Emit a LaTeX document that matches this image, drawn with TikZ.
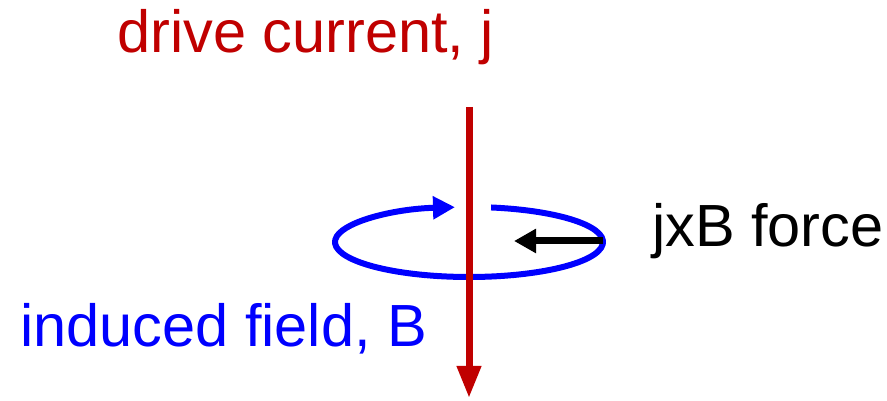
\documentclass[tikz,border=0pt]{standalone}
\usepackage{fontspec}
\setmainfont{Liberation Sans}
\usetikzlibrary{arrows.meta,calc}
\definecolor{wirered}{HTML}{C00000}
\definecolor{fieldblue}{HTML}{0000FF}
\begin{document}
\begin{tikzpicture}[x=1pt,y=1pt,
  lbl/.style={anchor=base west,inner sep=0pt,font=\fontsize{59.5}{62}\selectfont},
  wire/.style={draw=wirered,line width=7pt,-{Triangle[length=32pt,width=23pt]}},
  field/.style={draw=fieldblue,line width=6pt,-{Triangle[length=22pt,width=22pt]}},
  force/.style={draw=black,line width=7pt,-{Triangle[length=22pt,width=23pt]}}]
\useasboundingbox (0,0) rectangle (887,401);
% coordinates (pixel y converted: y = 401 - ypx)
\coordinate (c) at (469,159);
\coordinate (wtop) at (469,294);
\coordinate (wbot) at (469,3);
\coordinate (fstart) at (603,160);
\coordinate (fend) at (514,160);
% field loop
\draw[field] ($(c)+(80.5:134 and 35)$) arc[start angle=80.5,end angle=-264,x radius=134,y radius=35];
% wire
\draw[wire] (wtop) -- (wbot);
% force arrow
\draw[force] (fstart) -- (fend);
% labels
\node[lbl,text=wirered] (dc) at (117,348) {drive current, j};
\node[lbl,text=fieldblue] (ib) at (20,54) {induced field, B};
\node[lbl,text=black] (jb) at (652,154) {jxB force};
\end{tikzpicture}
\end{document}
